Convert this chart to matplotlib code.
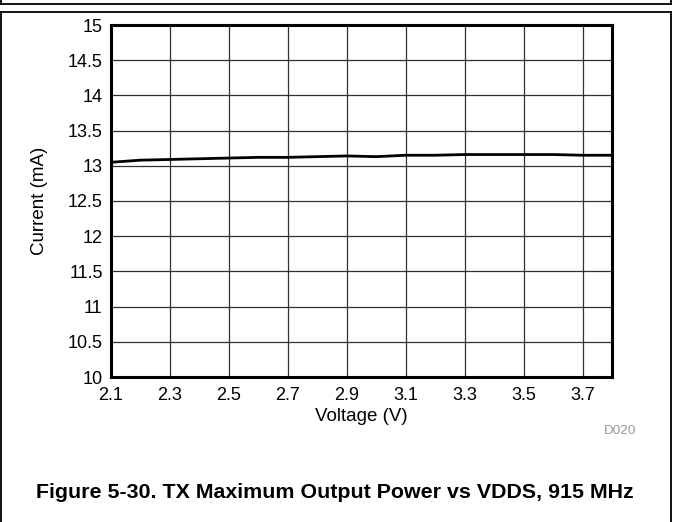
import matplotlib
matplotlib.use("Agg")
import matplotlib.pyplot as plt
from matplotlib.lines import Line2D

plt.rcParams['font.family'] = ['Liberation Sans', 'DejaVu Sans']

# VDDS sweep and TX current at max output power, 915 MHz
voltage = [2.1, 2.2, 2.3, 2.4, 2.5, 2.6, 2.7, 2.8, 2.9, 3.0,
           3.1, 3.2, 3.3, 3.4, 3.5, 3.6, 3.7, 3.8]
current = [13.05, 13.08, 13.09, 13.10, 13.11, 13.12, 13.12, 13.13, 13.14, 13.13,
           13.15, 13.15, 13.16, 13.16, 13.16, 13.16, 13.15, 13.15]

x_ticks = [2.1, 2.3, 2.5, 2.7, 2.9, 3.1, 3.3, 3.5, 3.7]
y_ticks = [10, 10.5, 11, 11.5, 12, 12.5, 13, 13.5, 14, 14.5, 15]

fig = plt.figure(figsize=(6.73, 5.22), dpi=100)
ax = fig.add_axes([111 / 673, 1 - 377 / 522, 501 / 673, 352 / 522])

ax.plot(voltage, current, color='black', lw=2.0, solid_capstyle='butt')

ax.set_xlim(2.1, 3.8)
ax.set_ylim(10, 15)
ax.set_xticks(x_ticks)
ax.set_xticklabels([f"{v:.1f}" for v in x_ticks])
ax.set_yticks(y_ticks)
ax.set_yticklabels([f"{v:g}" for v in y_ticks])
ax.tick_params(axis='x', length=0, labelsize=13, pad=7)
ax.tick_params(axis='y', length=0, labelsize=13, pad=6)
ax.grid(True, color='#303030', lw=0.9)
for sp in ax.spines.values():
    sp.set_linewidth(2.2)

ax.set_xlabel("Voltage (V)", fontsize=13.5, labelpad=3)
ax.set_ylabel("Current (mA)", fontsize=13.5, labelpad=14)

fig.text(636 / 673, 1 - 431 / 522, "D020", color='#999999', fontsize=9.7,
         ha='right', va='center')
fig.text(335 / 673, 1 - 493 / 522,
         "Figure 5-30. TX Maximum Output Power vs VDDS, 915 MHz",
         fontsize=15.4, fontweight='bold', ha='center', va='center')

# frame lines of the page layout
fig.add_artist(Line2D([0.5 / 673, 671 / 673], [1 - 3.5 / 522, 1 - 3.5 / 522],
                      color='black', lw=1.3))
fig.add_artist(Line2D([0.5 / 673, 0.5 / 673], [1, 1 - 3.5 / 522], color='black', lw=1.3))
fig.add_artist(Line2D([671 / 673, 671 / 673], [1, 1 - 3.5 / 522], color='black', lw=1.3))
fig.add_artist(Line2D([0.5 / 673, 671 / 673], [1 - 12 / 522, 1 - 12 / 522],
                      color='black', lw=1.3))
fig.add_artist(Line2D([0.5 / 673, 0.5 / 673], [0, 1 - 12 / 522], color='black', lw=1.3))
fig.add_artist(Line2D([671 / 673, 671 / 673], [0, 1 - 12 / 522], color='black', lw=1.3))

fig.savefig("out.png", dpi=100)
